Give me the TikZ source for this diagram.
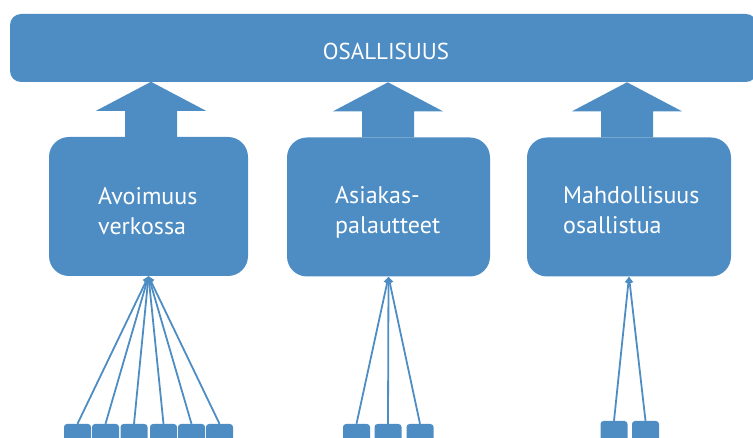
\documentclass[tikz,border=0pt]{standalone}
\usepackage{fontspec}
\setmainfont{PT Sans}
\usetikzlibrary{arrows.meta,calc}
\definecolor{blu}{RGB}{78,141,196}
\tikzset{
  bar/.style={fill=blu, rounded corners=11pt, minimum width=747pt, minimum height=68pt, inner sep=0pt},
  bigbox/.style={fill=blu, rounded corners=20pt, minimum height=139pt, inner sep=0pt},
  sq/.style={fill=blu, rounded corners=3pt, minimum width=27pt, minimum height=22pt, inner sep=0pt},
  lbl/.style={text=white, font=\fontsize{24pt}{30pt}\selectfont, inner sep=0pt},
  toplb/.style={text=white, font=\fontsize{23pt}{28pt}\selectfont, inner sep=0pt},
  fan/.style={draw=blu, line width=1.8pt, -{Triangle[length=6pt,width=7pt]}},
}
\begin{document}
\begin{tikzpicture}[x=1pt,y=-1pt]
\useasboundingbox (0,0) rectangle (753,438);
% top bar
\node[bar] (top) at (383.5,48) {};
\node[toplb, anchor=base] (toplbl) at (386,60) {OSALLISUUS};
% boxes
\node[bigbox, minimum width=199pt] (b1) at (148.5,206.5) {};
\node[bigbox, minimum width=203pt] (b2) at (388.5,207) {};
\node[bigbox, minimum width=204pt] (b3) at (629,207) {};
\node[lbl, anchor=north west, align=left] (t1) at (98,187) {Avoimuus\\verkossa};
\node[lbl, anchor=north west, align=left] (t2) at (335,186) {Asiakas-\\palautteet};
\node[lbl, anchor=north west, align=left] (t3) at (563,186) {Mahdollisuus\\osallistua};
% block arrows
\foreach \b/\dx in {b1/2.5, b2/-0.5, b3/-2}{
  \fill[blu] let \p1=(\b.north) in
    (\x1+\dx pt-26pt,\y1) -- (\x1+\dx pt-26pt,\y1+26pt) -- (\x1+\dx pt-55pt,\y1+26pt)
    -- (\x1+\dx pt,\y1+55pt) -- (\x1+\dx pt+55pt,\y1+26pt) -- (\x1+\dx pt+26pt,\y1+26pt)
    -- (\x1+\dx pt+26pt,\y1) -- cycle;
}
% small squares
\foreach \i/\x in {1/77.5,2/105.5,3/134,4/163.5,5/191.5,6/219.5}{
  \node[sq] (a\i) at (\x,435) {};
  \draw[fan] (a\i.north) -- (b1.south);
}
\foreach \i/\x in {1/356.5,2/388,3/420}{
  \node[sq] (c\i) at (\x,435) {};
  \draw[fan] (c\i.north) -- (b2.south);
}
\foreach \i/\x in {1/614,2/645.5}{
  \node[sq] (d\i) at (\x,432) {};
  \draw[fan] (d\i.north) -- (b3.south);
}
\end{tikzpicture}
\end{document}
